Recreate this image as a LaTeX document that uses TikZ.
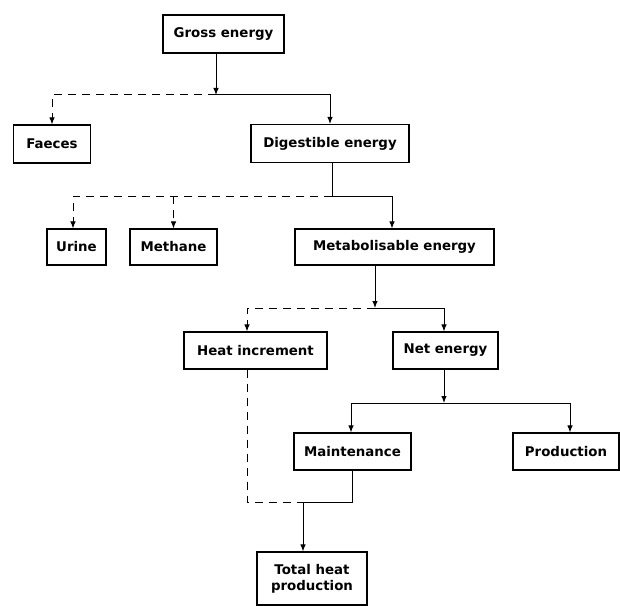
\documentclass[tikz,border=0pt]{standalone}
\usepackage{fontspec}
\setmainfont{DejaVu Sans}
\usetikzlibrary{arrows.meta}
\begin{document}
\begin{tikzpicture}[x=1bp,y=-1bp,
  box/.style={draw,line width=1.1bp,inner sep=0pt,align=center,
    font=\bfseries\fontsize{13.4}{16}\selectfont},
  conn/.style={line width=1bp},
  dsh/.style={conn,dash pattern=on 8bp off 6bp},
  arr/.style={-{Latex[length=7bp,width=5.5bp]}}]
\useasboundingbox[fill=white] (0,0) rectangle (620,606);
% boxes
\node[box,minimum width=121bp,minimum height=38bp] (gross) at (223.5,34) {Gross energy};
\node[box,minimum width=77bp,minimum height=38bp] (faeces) at (52,144) {Faeces};
\node[box,minimum width=158bp,minimum height=38bp] (digest) at (330,143.5) {Digestible energy};
\node[box,minimum width=59bp,minimum height=36bp] (urine) at (76.5,247) {Urine};
\node[box,minimum width=87bp,minimum height=36bp] (methane) at (173.5,247) {Methane};
\node[box,minimum width=199bp,minimum height=36bp] (me) at (394.5,247) {Metabolisable energy};
\node[box,minimum width=143bp,minimum height=37bp] (heat) at (255.5,350.5) {Heat increment};
\node[box,minimum width=105bp,minimum height=37bp] (net) at (445.5,350.5) {Net energy};
\node[box,minimum width=117bp,minimum height=37bp] (maint) at (352.5,451.5) {Maintenance};
\node[box,minimum width=106bp,minimum height=37bp] (prod) at (566,451.5) {Production};
\node[box,minimum width=110bp,minimum height=53bp] (total) at (312,578.5) {Total heat\\production};
% junctions
\coordinate (j1) at (216,95);
\coordinate (j2) at (332,196);
\coordinate (j3) at (375,308);
\coordinate (j4) at (444,403);
\coordinate (j5) at (303,502);
% connectors
\draw[conn,arr] (j1 |- gross.south) -- (j1);
\draw[dsh,arr] (j1) -| (faeces.north);
\draw[conn,arr] (j1) -| (digest.north);
\draw[conn] (j2 |- digest.south) -- (j2);
\draw[dsh,arr] (j2) -| ([xshift=-3.5bp]urine.north);
\draw[dsh,arr] (methane.north |- j2) -- (methane.north);
\draw[conn,arr] (j2) -| ([xshift=-2.5bp]me.north);
\draw[conn,arr] (j3 |- me.south) -- (j3);
\draw[dsh,arr] (j3) -| ([xshift=-8.5bp]heat.north);
\draw[conn,arr] (j3) -| ([xshift=-1.5bp]net.north);
\draw[conn,arr] (j4 |- net.south) -- (j4);
\draw[conn,arr] (j4) -| ([xshift=-1.5bp]maint.north);
\draw[conn,arr] (j4) -| ([xshift=4bp]prod.north);
\draw[dsh] ([xshift=-8.5bp]heat.south) |- (j5);
\draw[conn] ([xshift=-0.5bp]maint.south) |- (j5);
\draw[conn,arr] (j5) -- (j5 |- total.north);
\end{tikzpicture}
\end{document}
